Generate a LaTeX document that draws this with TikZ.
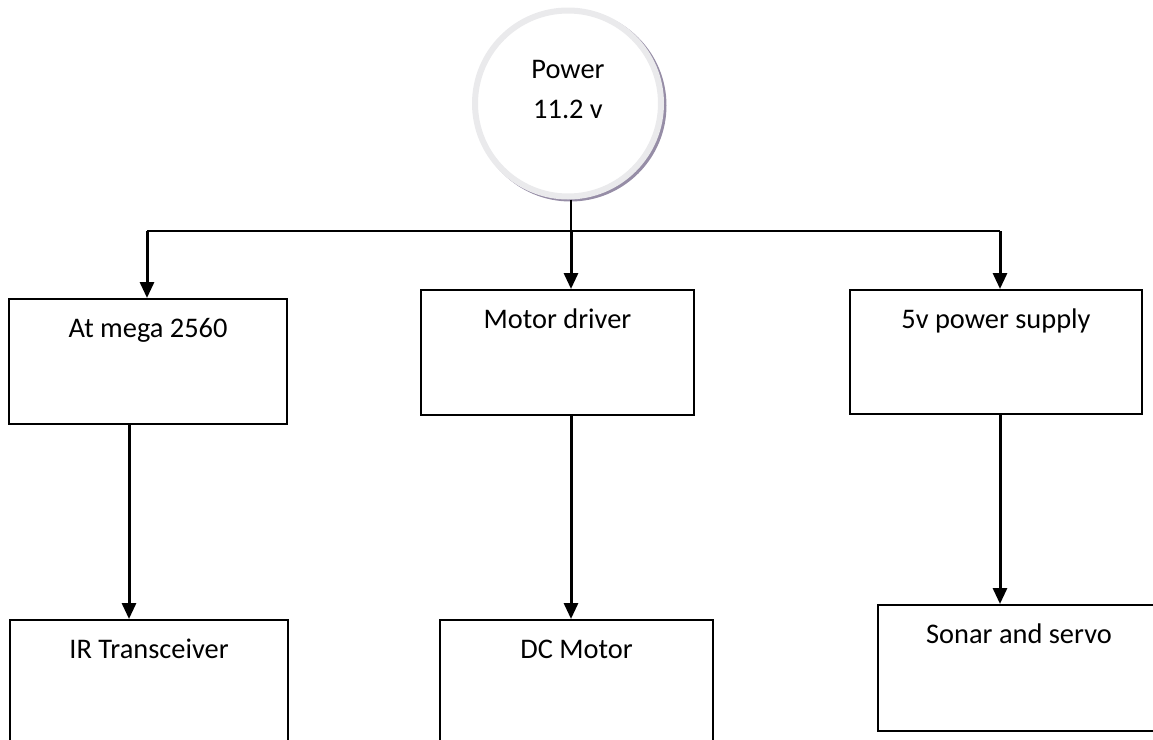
\documentclass[tikz,border=0pt]{standalone}
\usepackage{fontspec}
\setmainfont{Carlito}
\usepackage{xcolor}
\usepackage{tikz}
\usetikzlibrary{arrows.meta, positioning}

\definecolor{ringgray}{RGB}{234,234,236}
\definecolor{ringshade}{RGB}{150,141,166}

\begin{document}
\begin{tikzpicture}[
    x=0.5pt, y=-0.5pt,
    every node/.style={font=\fontsize{14.2}{20}\selectfont},
    block/.style={
        draw=black, line width=1pt, inner sep=0pt, anchor=north west,
        minimum width=#1, text height=19.25pt, text depth=43.25pt
    },
    source/.style={
        circle, draw=ringgray, line width=3pt, fill=white, align=center,
        minimum size=93pt, inner sep=0pt, text height=30pt, text depth=15pt
    },
    halo/.style={fill=ringshade},
    bus/.style={draw=black, line width=1pt},
    feed/.style={
        -{Triangle[width=7pt, length=8pt]}, draw=black, line width=1.5pt
    }
]
\useasboundingbox (0,0) rectangle (1153,740);
\clip (0,0) rectangle (1153,740);

% Power source
\fill[halo] (570.5,105.5) circle (48pt);
\node[source] (power) at (568,103.5) {Power\\11.2 v};

% First row
\node[block=139pt] (atmega) at (8,298) {At mega 2560};
\node[block=136.5pt] (driver) at (420,289) {Motor driver};
\node[block=146pt, text depth=42.75pt] (supply) at (849,289) {5v power supply};

% Second row
\node[block=139pt] (ir) at (9,619) {IR Transceiver};
\node[block=136.5pt] (dcmotor) at (439,619) {DC Motor};
\node[block=141pt, text depth=43.75pt] (sonar) at (877,604) {Sonar and servo};

% Distribution bus
\coordinate (busL) at (147,231);
\coordinate (busM) at (571,231);
\coordinate (busR) at (1000,231);
\draw[bus] (busM |- power.south) -- (busM);
\draw[bus] (busL) -- (busR);

% Feeds into first row
\draw[feed] (busL) -- (busL |- atmega.north);
\draw[feed] (busM) -- (busM |- driver.north);
\draw[feed] (busR) -- (busR |- supply.north);

% Feeds into second row
\draw[feed] (129,0 |- atmega.south) -- (129,0 |- ir.north);
\draw[feed] (571,0 |- driver.south) -- (571,0 |- dcmotor.north);
\draw[feed] (1000,0 |- supply.south) -- (1000,0 |- sonar.north);

\end{tikzpicture}
\end{document}
